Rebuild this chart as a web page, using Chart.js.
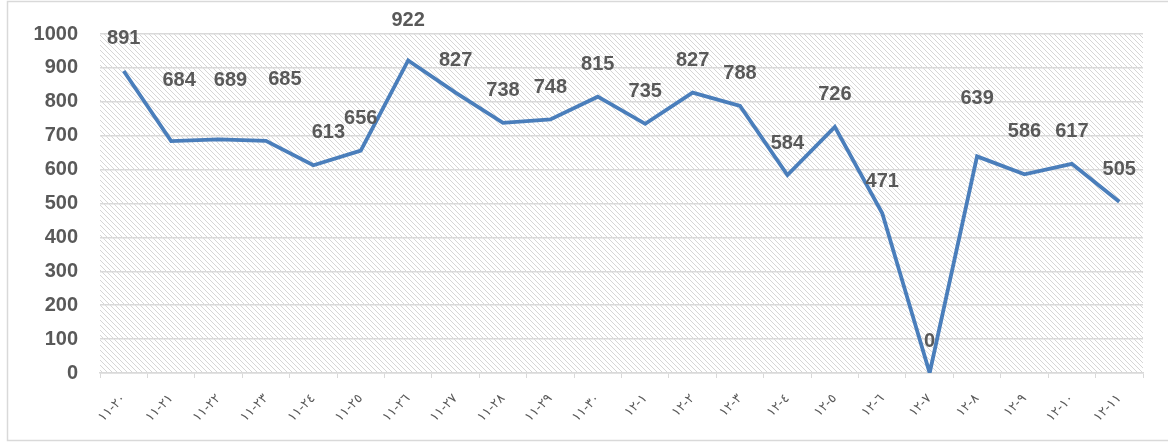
<!DOCTYPE html>
<html>
<head>
<meta charset="utf-8">
<script src="https://cdn.jsdelivr.net/npm/chart.js@4.4.0/dist/chart.umd.min.js"></script>
<style>
  html, body { margin: 0; padding: 0; background: #fff; }
  #wrap { width: 1168px; height: 443px; position: relative; }
</style>
</head>
<body>
<div id="wrap"><canvas id="myChart" width="1168" height="443"></canvas></div>
<script>
// categories (Arabic-Indic digits, as in the source)
var categorias = ['١١-٢٠','١١-٢١','١١-٢٢','١١-٢٣','١١-٢٤','١١-٢٥','١١-٢٦','١١-٢٧','١١-٢٨','١١-٢٩','١١-٣٠',
                  '١٢-١','١٢-٢','١٢-٣','١٢-٤','١٢-٥','١٢-٦','١٢-٧','١٢-٨','١٢-٩','١٢-١٠','١٢-١١'];
var valores = [891, 684, 689, 685, 613, 656, 922, 827, 738, 748, 815, 735, 827, 788, 584, 726, 471, 0, 639, 586, 617, 505];
var ticksY = [0, 100, 200, 300, 400, 500, 600, 700, 800, 900, 1000];

// label nudges (px) where the labels were moved by hand in the original
var ajusteEtiqueta = {1: [8, -29], 2: [12, -27], 3: [19, -29], 4: [15, -1], 6: [0, -8], 18: [0, -26], 19: [0, -11]};

var gris = '#595959';
var fuente = '"Liberation Sans", Arial, sans-serif';

// diagonal hatch for the plot area
function patronRayas() {
    var c = document.createElement('canvas');
    c.width = 5; c.height = 5;
    var g = c.getContext('2d');
    g.fillStyle = '#ffffff';
    g.fillRect(0, 0, 5, 5);
    g.fillStyle = '#d6d6d6';
    for (var i = 0; i < 5; i++) {
        g.fillRect(i, i, 1, 1);
    }
    return g.createPattern(c, 'repeat');
}

var fondoPlugin = {
    id: 'fondo',
    beforeDraw: function (chart) {
        var ctx = chart.ctx, a = chart.chartArea;
        ctx.save();
        // outer frame
        ctx.strokeStyle = '#d9d9d9';
        ctx.lineWidth = 1.5;
        ctx.strokeRect(7.5, 1.5, 1170, 439);
        ctx.fillStyle = patronRayas();
        ctx.fillRect(a.left, a.top, a.right - a.left, a.bottom - a.top);
        ctx.restore();
    }
};

var etiquetasPlugin = {
    id: 'etiquetas',
    afterDatasetsDraw: function (chart) {
        var ctx = chart.ctx;
        var meta = chart.getDatasetMeta(0);
        ctx.save();
        ctx.font = 'bold 20px ' + fuente;
        ctx.fillStyle = gris;
        ctx.textAlign = 'center';
        ctx.textBaseline = 'middle';
        meta.data.forEach(function (pt, i) {
            var adj = ajusteEtiqueta[i] || [0, 0];
            ctx.fillText(String(valores[i]), pt.x + adj[0], pt.y - 32 + adj[1]);
        });
        ctx.restore();
    }
};

var ctx = document.getElementById('myChart').getContext('2d');
var myChart = new Chart(ctx, {
    type: 'line',
    data: {
        labels: categorias,
        datasets: [{
            label: 'serie',
            data: valores,
            borderColor: '#4a7ebb',
            backgroundColor: '#4a7ebb',
            borderWidth: 3.8,
            pointRadius: 0,
            tension: 0,
            fill: false
        }]
    },
    options: {
        responsive: false,
        animation: false,
        layout: { padding: { left: 10, right: 25, top: 30, bottom: 4 } },
        plugins: {
            legend: { display: false },
            tooltip: { enabled: false }
        },
        scales: {
            x: {
                offset: true,
                grid: {
                    offset: true,
                    drawOnChartArea: false,
                    drawTicks: true,
                    tickLength: 5,
                    color: '#d9d9d9'
                },
                border: { color: '#d9d9d9', width: 1.5 },
                ticks: {
                    autoSkip: false,
                    maxRotation: 45,
                    minRotation: 45,
                    padding: 13,
                    color: gris,
                    font: { family: '"DejaVu Sans"', size: 13 },
                    // keep "11" on the left of "20" like the original
                    callback: function (v, i) {
                        return categorias[i].replace('-', '\u200E-\u200E');
                    }
                },
                afterFit: function (scale) { scale.height = 66; }
            },
            y: {
                min: 0,
                max: 1000,
                afterBuildTicks: function (scale) {
                    scale.ticks = ticksY.map(function (v) { return { value: v }; });
                },
                grid: { color: '#d9d9d9', lineWidth: 1.5, drawTicks: false },
                border: { display: false },
                ticks: {
                    padding: 22,
                    color: gris,
                    font: { family: fuente, size: 20, weight: 'bold' },
                    callback: function (v) { return String(v); }
                },
                afterFit: function (scale) { scale.width = 90; }
            }
        }
    },
    plugins: [fondoPlugin, etiquetasPlugin]
});
</script>
</body>
</html>
